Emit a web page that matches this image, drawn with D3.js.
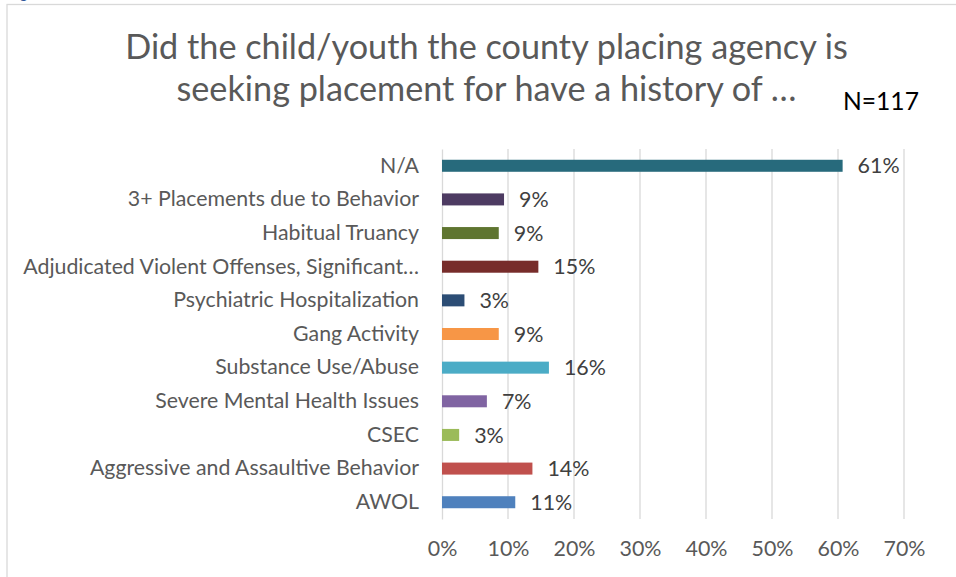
<!DOCTYPE html>
<html>
<head>
<meta charset="utf-8">
<style>
  body { margin: 0; background: #fff; }
  text { font-family: Lato, "Open Sans", sans-serif; }
</style>
<script src="https://cdn.jsdelivr.net/npm/d3@7"></script>
</head>
<body>
<svg width="956" height="577"></svg>
<script>

// categories, top to bottom as shown
var categories = [
  "N/A",
  "3+ Placements due to Behavior",
  "Habitual Truancy",
  "Adjudicated Violent Offenses, Significant…",
  "Psychiatric Hospitalization",
  "Gang Activity",
  "Substance Use/Abuse",
  "Severe Mental Health Issues",
  "CSEC",
  "Aggressive and Assaultive Behavior",
  "AWOL"
];

// share of youth (N=117)
var values = [0.607, 0.094, 0.086, 0.146, 0.034, 0.086, 0.162, 0.068, 0.026, 0.137, 0.111];

var colors = ["#276a7c", "#4d3b62", "#5f7530", "#772c2a", "#2c4d75", "#f79646",
              "#4bacc6", "#8064a2", "#9bbb59", "#c0504d", "#4f81bd"];

var tickValues = [0, 0.1, 0.2, 0.3, 0.4, 0.5, 0.6, 0.7];

var titleLines = ["Did the child/youth the county placing agency is",
                  "seeking placement for have a history of …"];
var note = "N=117";

var svg = d3.select("svg"),
    width = +svg.attr("width"),
    height = +svg.attr("height");

var fam = "Lato, 'Open Sans', sans-serif";

// pick a font size so a reference string comes out at a given width
function fitSize(str, targetW) {
  var t = svg.append("text").style("font-size", "100px").text(str);
  var w = t.node().getComputedTextLength();
  t.remove();
  return 100 * targetW / w;
}

var titleSize = fitSize(titleLines[0], 723),
    catSize = fitSize(categories[3], 396),
    numSize = fitSize("70%", 42),
    noteSize = fitSize(note, 76);

// chart area border
svg.append("rect")
    .attr("x", 7).attr("y", 4.5)
    .attr("width", width + 10).attr("height", height + 10)
    .attr("fill", "none")
    .attr("stroke", "#d9d9d9")
    .attr("stroke-width", 1.3);

// bit of caption text cut off above the chart
svg.append("text")
    .attr("x", 20).attr("y", -1)
    .style("font-size", "14px")
    .attr("fill", "#2f5597")
    .text("g");

var x = d3.scaleLinear().domain([0, 0.7]).range([442, 904]);
var y = d3.scaleBand().domain(categories).range([149, 519])
    .paddingInner(0.643).paddingOuter(0.32);

// gridlines
svg.append("g")
  .selectAll("line")
  .data(tickValues.slice(1))
  .enter().append("line")
    .attr("x1", function(d) { return x(d); })
    .attr("x2", function(d) { return x(d); })
    .attr("y1", 149).attr("y2", 519)
    .attr("stroke", "#d9d9d9")
    .attr("stroke-width", 1.3);

// x axis labels
var xAxis = svg.append("g")
    .attr("transform", "translate(0,519)")
    .call(d3.axisBottom(x).tickValues(tickValues).tickFormat(d3.format(".0%")).tickSize(0).tickPadding(22));
xAxis.select(".domain").remove();
xAxis.selectAll("text")
    .style("font-family", fam)
    .style("font-size", numSize + "px")
    .attr("fill", "#595959");

// y axis
var yAxis = svg.append("g")
    .attr("transform", "translate(442,0)")
    .call(d3.axisLeft(y).tickSize(0).tickPadding(23));
yAxis.select(".domain")
    .attr("stroke", "#d9d9d9")
    .attr("stroke-width", 1.3);
yAxis.selectAll("text")
    .style("font-family", fam)
    .style("font-size", catSize + "px")
    .attr("fill", "#595959");

// bars
svg.append("g")
  .selectAll("rect")
  .data(values)
  .enter().append("rect")
    .attr("x", x(0))
    .attr("y", function(d, i) { return y(categories[i]); })
    .attr("width", function(d) { return x(d) - x(0); })
    .attr("height", y.bandwidth())
    .attr("fill", function(d, i) { return colors[i]; });

// data labels
svg.append("g")
  .selectAll("text")
  .data(values)
  .enter().append("text")
    .attr("x", function(d) { return x(d) + 15; })
    .attr("y", function(d, i) { return y(categories[i]) + y.bandwidth() / 2; })
    .attr("dy", "0.36em")
    .style("font-size", numSize + "px")
    .attr("fill", "#404040")
    .text(d3.format(".0%"));

// title
svg.append("g")
  .selectAll("text")
  .data(titleLines)
  .enter().append("text")
    .attr("x", 486.5)
    .attr("y", function(d, i) { return 59 + i * 42; })
    .attr("text-anchor", "middle")
    .style("font-size", titleSize + "px")
    .attr("fill", "#595959")
    .text(function(d) { return d; });

svg.append("text")
    .attr("x", 843).attr("y", 110)
    .style("font-size", noteSize + "px")
    .attr("fill", "#000")
    .text(note);

</script>
</body>
</html>
